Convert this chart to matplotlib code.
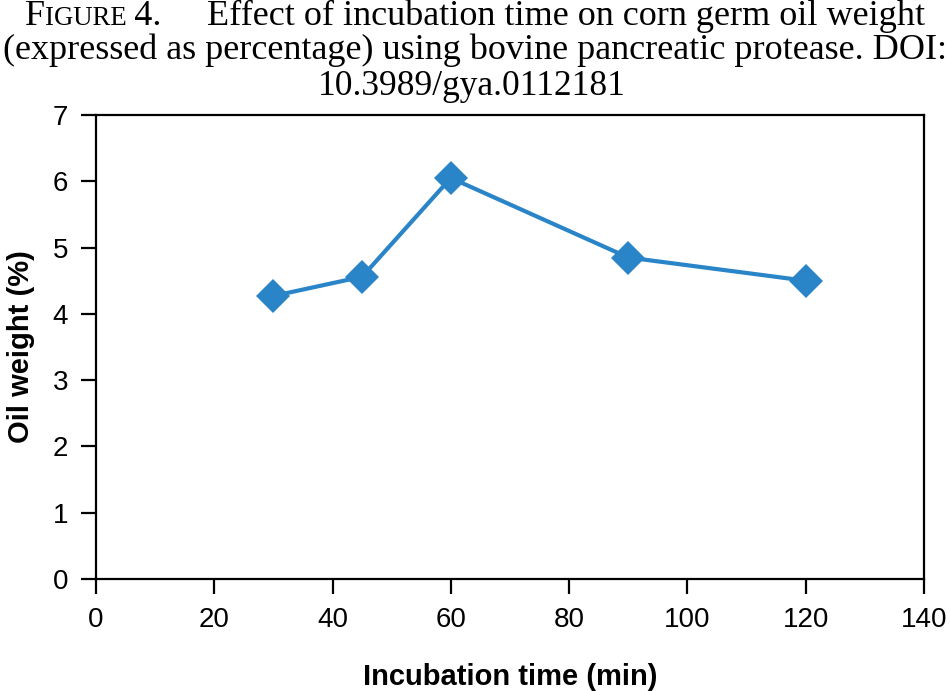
import matplotlib
matplotlib.use("Agg")
import matplotlib.pyplot as plt

time_min = [30, 45, 60, 90, 120]
oil_weight = [4.27, 4.56, 6.05, 4.85, 4.50]
x_ticks = [0, 20, 40, 60, 80, 100, 120, 140]
y_ticks = [0, 1, 2, 3, 4, 5, 6, 7]

fig = plt.figure(figsize=(9.5, 6.91), dpi=100)
ax = fig.add_axes([96/950, 1-579/691, (924-96)/950, (579-115)/691])

ax.plot(time_min, oil_weight, color="#2a84c8", lw=3.0, marker="D", ms=17,
        markeredgewidth=0, solid_joinstyle="miter")
ax.set_xlim(0, 140)
ax.set_ylim(0, 7)
ax.set_xticks(x_ticks)
ax.set_yticks(y_ticks)
for s in ax.spines.values():
    s.set_linewidth(1.6)
    s.set_color("black")
ax.tick_params(direction="out", length=11, width=1.6, labelsize=20, pad=9)
for lab in ax.get_xticklabels() + ax.get_yticklabels():
    lab.set_family("Liberation Sans")
ax.set_xlabel("Incubation time (min)", fontsize=21, fontweight="bold",
              family="Liberation Sans", labelpad=22)
ax.set_ylabel("Oil weight (%)", fontsize=21, fontweight="bold",
              family="Liberation Sans", labelpad=13)

serif = "Liberation Serif"
fs = 26
fig.canvas.draw()
r = fig.canvas.get_renderer()
yb = 1 - 25/691

def txt(s, size, x=0):
    return fig.text(x, yb, s, fontsize=size, family=[serif, "DejaVu Serif"],
                    va="baseline", ha="left")

# label block "FIGURE 4." with small caps
label_parts = [txt("F", fs), txt("IGURE", fs * 0.74), txt("\u20094.", fs)]
x0 = 25
for t in label_parts:
    t.set_position((x0/950, yb))
    x0 += t.get_window_extent(r).width

fig.text(925/950, yb, "Effect of incubation time on corn germ oil weight",
         fontsize=fs, family=serif, ha="right", va="baseline")
fig.text(0.5, 1 - 59/691, "(expressed as percentage) using bovine pancreatic protease. DOI:",
         fontsize=fs, family=serif, ha="center", va="baseline")
fig.text(472/950, 1 - 95/691, "10.3989/gya.0112181",
         fontsize=fs * 0.98, family=serif, ha="center", va="baseline")

fig.savefig("out.png", dpi=100)
